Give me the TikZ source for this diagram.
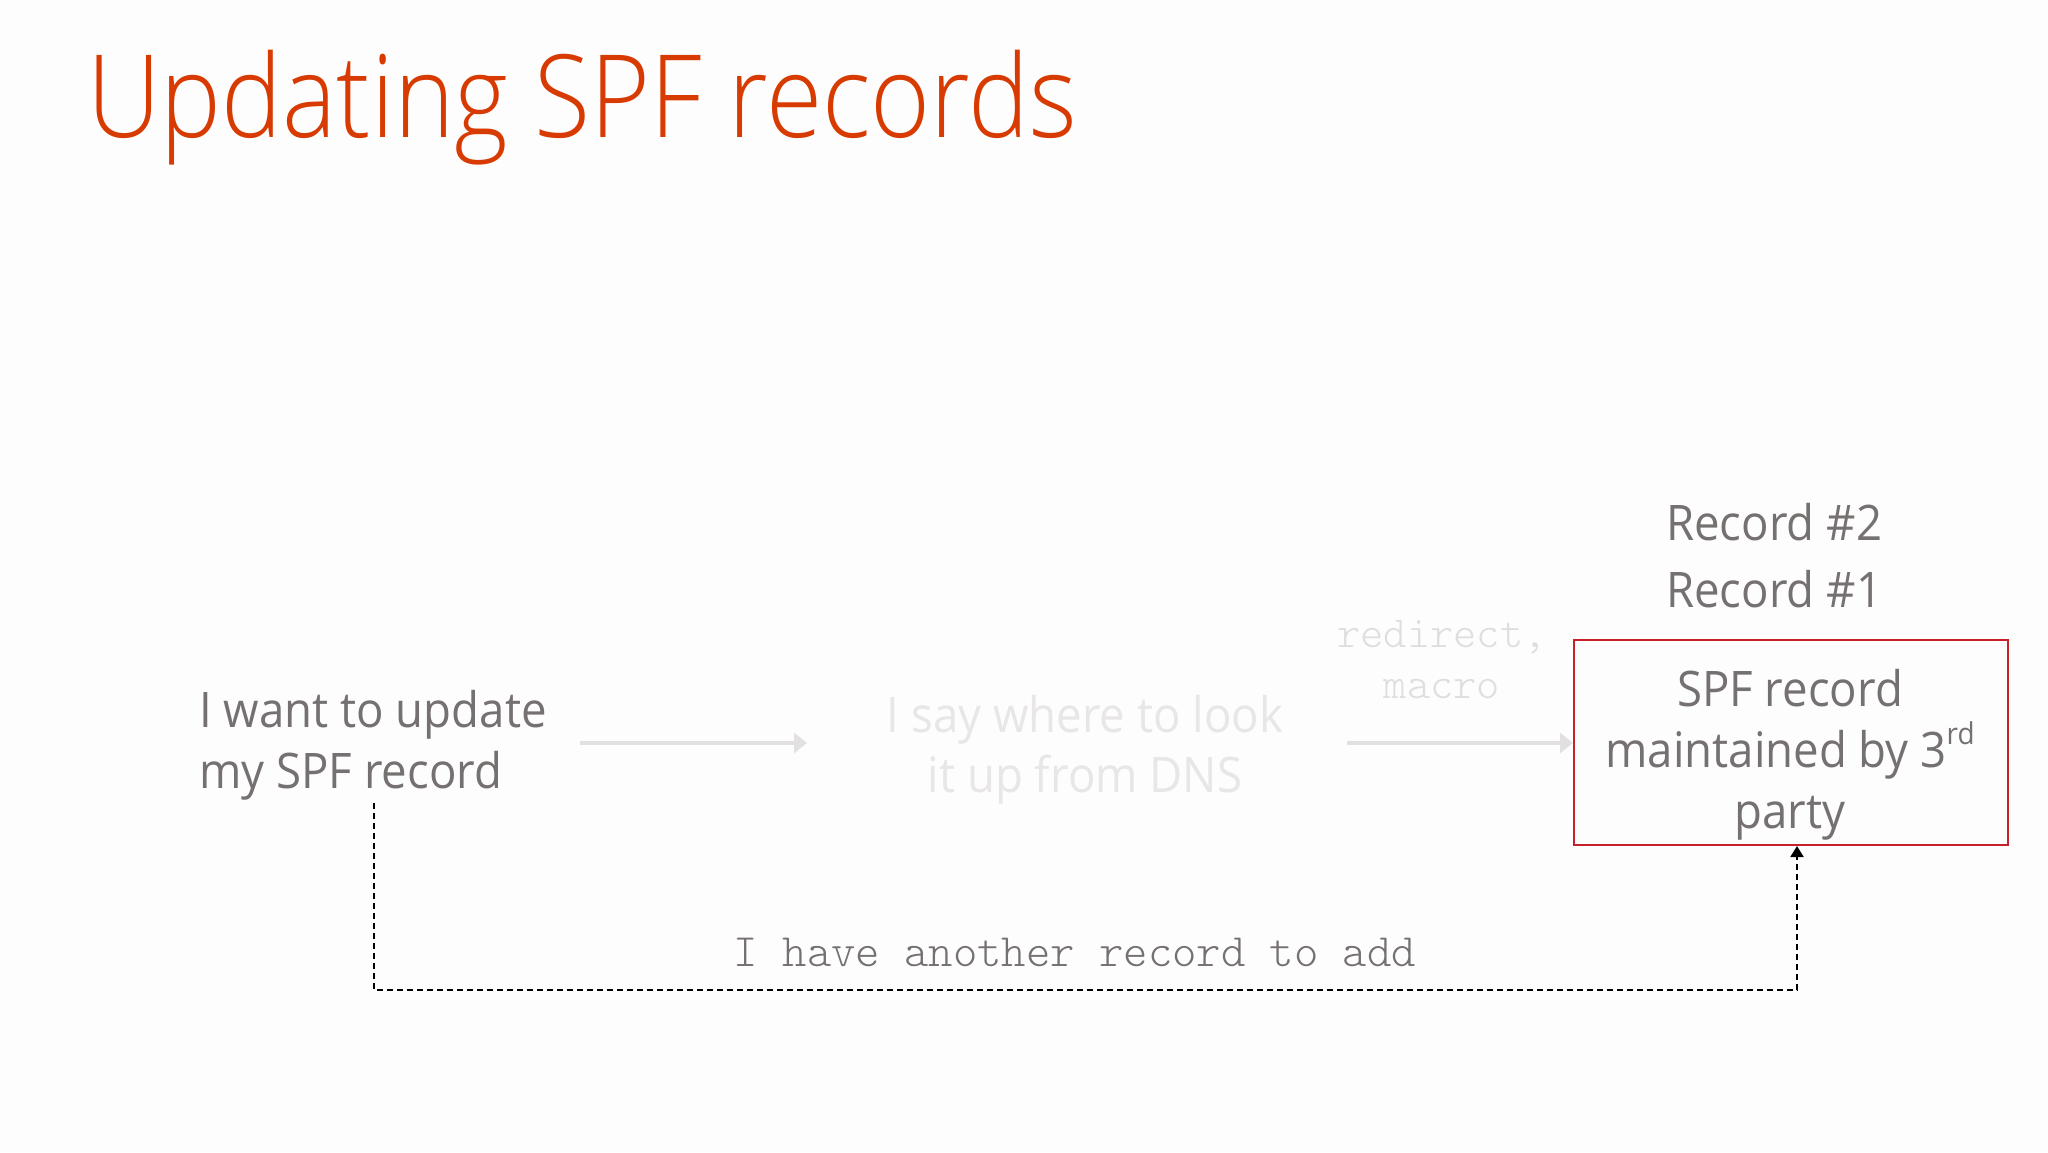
\documentclass[tikz,border=0pt]{standalone}
\usepackage{fontspec}
\setmainfont{Open Sans}[FakeStretch=0.93]
\newfontfamily\titlefont{Open Sans Light}[FakeStretch=0.89]
\newfontfamily\monolt{Latin Modern Mono Light}
\usetikzlibrary{arrows.meta}
\definecolor{bgc}{HTML}{FEFDFD}
\definecolor{ttl}{HTML}{D83B01}
\definecolor{gtxt}{HTML}{767171}
\definecolor{ftxt}{HTML}{E8E6E6}
\definecolor{mtxt}{HTML}{E0DDDD}
\definecolor{farrow}{HTML}{E2E0E0}
\definecolor{boxred}{HTML}{C8202A}
\tikzset{
  body/.style={inner sep=0pt, text=gtxt, font=\fontsize{49}{61}\selectfont},
  faint/.style={inner sep=0pt, text=ftxt, font=\fontsize{49}{60}\selectfont},
  monofaint/.style={inner sep=0pt, text=mtxt, font=\monolt\fontsize{44.3}{51}\selectfont},
  monolabel/.style={inner sep=0pt, text=gtxt, font=\monolt\fontsize{46.4}{50}\selectfont},
  garrow/.style={draw=farrow, line width=4pt, -{Triangle[width=20pt,length=13pt]}},
  dashconn/.style={draw=black, line width=2pt, dash pattern=on 6pt off 4pt, -{Triangle[width=13pt,length=11pt]}},
  recbox/.style={draw=boxred, line width=2pt, inner sep=0pt, minimum width=434pt, minimum height=205pt}
}
\begin{document}
\begin{tikzpicture}[x=1pt,y=-1pt]
\useasboundingbox[fill=bgc] (0,0) rectangle (2048,1152);
\node[anchor=base west, inner sep=0pt, text=ttl, font=\titlefont\fontsize{115}{120}\selectfont] (title) at (87,137) {Updating SPF records};
\node[body, anchor=base west, align=left] (want) at (199,788) {I want to update\\my SPF record};
\node[faint, anchor=base, align=center] (say) at (1085,792) {I say where to look\\it up from DNS};
\node[monofaint, anchor=base, align=center] (redir) at (1442,698) {redirect,\\macro};
\node[recbox, anchor=north west] (box) at (1573,639) {};
\node[body, anchor=base, align=center] (boxtext) at (1790,828) {SPF record\\maintained by 3\raisebox{0.45em}{\fontsize{30}{30}\selectfont rd}\\party};
\node[body, anchor=base west] (rec2) at (1666,540) {Record \#2};
\node[body, anchor=base west] (rec1) at (1666,607) {Record \#1};
\node[monolabel, anchor=base] (lbl) at (1075,966) {I have another record to add};
\coordinate (a1s) at (580,743);
\coordinate (a1e) at (807,743);
\coordinate (a2s) at (1347,743);
\draw[garrow] (a1s) -- (a1e);
\draw[garrow] (a2s) -- (box.west |- a2s);
\coordinate (d0) at (374,803);
\coordinate (dbot) at (1085,990);
\draw[dashconn] (d0) |- (dbot) -| ([xshift=6pt]box.south);
\end{tikzpicture}
\end{document}
